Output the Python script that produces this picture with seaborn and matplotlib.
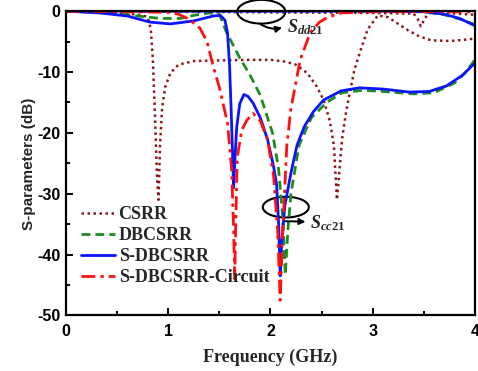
import matplotlib
matplotlib.use("Agg")
import matplotlib.pyplot as plt
import seaborn as sns
from matplotlib.patches import Ellipse

# CSRR, cc21 (deep notches) and dd21 (near 0 dB)
csrr_cc_f = [0, 0.3, 0.6, 0.75, 0.80, 0.83, 0.85, 0.87, 0.89, 0.905, 0.92, 0.94, 0.97,
             1.02, 1.1, 1.25, 1.5, 1.8, 2.0, 2.15, 2.25, 2.36, 2.45, 2.52, 2.58, 2.62,
             2.65, 2.67, 2.7, 2.74, 2.78, 2.82, 2.88, 2.95, 3.05, 3.15, 3.34, 3.45,
             3.57, 3.76, 3.9, 4.0]
csrr_cc_db = [0, -0.1, -0.4, -0.7, -1.0, -3, -8, -17, -27, -31, -22, -16, -12.5,
              -10.2, -8.8, -8.2, -8.1, -8.0, -8.0, -8.3, -8.8, -10.2, -12.3, -14.6, -18, -22,
              -31, -27, -21, -16.5, -13, -9.7, -6.5, -3, -0.7, -1.0, -3.1, -4.1,
              -4.8, -4.9, -4.7, -4.5]
csrr_dd_f = [0, 1.0, 2.0, 3.0, 3.4, 3.44, 3.47, 3.51, 3.55, 3.8, 4.0]
csrr_dd_db = [0, -0.1, -0.2, -0.3, -0.4, -1.3, -2.5, -1.2, -0.3, -0.4, -0.6]

# DBCSRR
dbc_cc_f = [0, 0.3, 0.6, 0.92, 1.12, 1.25, 1.4, 1.5, 1.57, 1.7, 1.8, 1.9, 2.02, 2.08,
            2.12, 2.145, 2.17, 2.2, 2.28, 2.4, 2.55, 2.7, 2.9, 3.1, 3.4, 3.6, 3.8,
            3.9, 4.0]
dbc_cc_db = [0, -0.2, -0.6, -1.2, -1.2, -0.7, -0.3, -0.5, -3.5, -7.7, -10.5, -13.8, -20, -26,
             -34, -43.3, -36, -30, -22, -17.5, -15, -13.4, -13, -13.2, -13.6, -13.4, -11.8,
             -10.2, -8.0]
dbc_dd_f = [0, 1.0, 2.0, 3.0, 3.5, 3.7, 3.85, 4.0]
dbc_dd_db = [0, 0, 0, 0, -0.1, -0.6, -1.3, -2.2]

# S-DBCSRR
sdb_cc_f = [0, 0.33, 0.6, 0.82, 1.02, 1.25, 1.44, 1.51, 1.555, 1.58, 1.60, 1.615, 1.63,
            1.64, 1.65, 1.67, 1.70, 1.74, 1.78, 1.83, 1.9, 1.97, 2.03, 2.06, 2.08, 2.095,
            2.11, 2.14, 2.2, 2.26, 2.33, 2.42, 2.52, 2.69, 2.87, 3.1, 3.36, 3.55, 3.72,
            3.88, 4.0]
sdb_cc_db = [0, -0.3, -0.8, -1.8, -2.1, -1.6, -0.8, -0.7, -1.5, -3.6, -9, -16, -24,
             -29, -25, -19, -15.2, -13.7, -14, -15.1, -17.5, -21, -25.5, -28.5, -35, -43.5,
             -38, -32, -26.6, -22, -19, -16.5, -14.6, -13.1, -12.6, -12.8, -13.3, -13.2, -12.3,
             -10.5, -8.5]
sdb_dd_f = [0, 1.0, 2.0, 3.0, 3.5, 3.7, 3.85, 4.0]
sdb_dd_db = [0, 0, 0, 0, -0.1, -0.5, -1.2, -2.4]

# S-DBCSRR equivalent circuit
cir_f = [0, 0.6, 1.0, 1.1, 1.2, 1.31, 1.38, 1.44, 1.5, 1.58, 1.62, 1.64, 1.65, 1.66,
         1.675, 1.72, 1.77, 1.83, 1.9, 1.97, 2.03, 2.07, 2.095, 2.12, 2.16, 2.2, 2.29,
         2.39, 2.48, 2.56, 2.69, 3.0, 4.0]
cir_db = [0, -0.1, -0.2, -0.5, -1.3, -2.8, -5, -9.1, -12.5, -18.4, -26, -36, -44, -35,
          -24, -19.5, -17.9, -16.8, -18, -21, -27, -36, -47.5, -36, -22, -16, -8,
          -3.5, -1.8, -1.0, -0.3, -0.1, -0.1]

x_ticks = [0, 1, 2, 3, 4]
y_ticks = [0, -10, -20, -30, -40, -50]

sns.set_style("ticks")
plt.rcParams['axes.unicode_minus'] = False
plt.rcParams['mathtext.fontset'] = 'custom'
plt.rcParams['mathtext.it'] = 'Liberation Serif:italic:bold'
plt.rcParams['mathtext.rm'] = 'Liberation Serif:bold'
plt.rcParams['mathtext.bf'] = 'Liberation Serif:bold'

fig = plt.figure(figsize=(4.78, 3.71), dpi=100)
ax = fig.add_subplot(1, 1, 1)
fig.subplots_adjust(left=0.138, right=0.9937, bottom=0.1496, top=0.970)

c_csrr = '#8B1A1A'
c_dbc = '#1E8C1E'
c_sdb = '#0A14FF'
c_cir = '#FF1010'

dot = (0, (1, 1.4))
dash = (0, (3.2, 1.8))
dashdot = (0, (5, 1.8, 1.2, 1.8))

sns.lineplot(x=csrr_cc_f, y=csrr_cc_db, color=c_csrr, linestyle=dot, lw=1.8,
             estimator=None, sort=False, ax=ax, label='CSRR')
sns.lineplot(x=csrr_dd_f, y=csrr_dd_db, color=c_csrr, linestyle=dot, lw=1.8,
             estimator=None, sort=False, ax=ax)
sns.lineplot(x=dbc_cc_f, y=dbc_cc_db, color=c_dbc, linestyle=dash, lw=2.0,
             estimator=None, sort=False, ax=ax, label='DBCSRR')
sns.lineplot(x=dbc_dd_f, y=dbc_dd_db, color=c_dbc, linestyle=dash, lw=2.0,
             estimator=None, sort=False, ax=ax)
sns.lineplot(x=sdb_cc_f, y=sdb_cc_db, color=c_sdb, linestyle='-', lw=2.0,
             estimator=None, sort=False, ax=ax, label='S-DBCSRR')
sns.lineplot(x=sdb_dd_f, y=sdb_dd_db, color=c_sdb, linestyle='-', lw=2.0,
             estimator=None, sort=False, ax=ax)
sns.lineplot(x=cir_f, y=cir_db, color=c_cir, linestyle=dashdot, lw=2.0,
             estimator=None, sort=False, ax=ax, label='S-DBCSRR-Circuit')

ax.set_xlim(0, 4)
ax.set_ylim(-50, 0)
ax.set_xticks(x_ticks)
ax.set_yticks(y_ticks)
ax.set_xticks([0.5, 1.5, 2.5, 3.5], minor=True)
ax.set_yticks([-5, -15, -25, -35, -45], minor=True)
ax.tick_params(which='both', direction='in', width=1.4, colors='black')
ax.tick_params(axis='x', pad=6)
ax.tick_params(axis='y', pad=4)
ax.tick_params(which='major', length=5)
ax.tick_params(which='minor', length=3)
for lab in ax.get_xticklabels() + ax.get_yticklabels():
    lab.set_fontfamily('Liberation Sans')
    lab.set_fontweight('bold')
    lab.set_fontsize(11.5)
for sp in ax.spines.values():
    sp.set_linewidth(1.6)
    sp.set_color('black')
    sp.set_visible(True)

ax.set_xlabel("Frequency (GHz)", family='Liberation Serif', fontweight='bold',
              fontsize=13, labelpad=7)
ax.set_ylabel("S-parameters (dB)", family='Liberation Sans', fontweight='bold',
              fontsize=11, labelpad=1)

leg = ax.legend(loc='upper left', bbox_to_anchor=(0.036, 0.36), frameon=False,
                borderaxespad=0, borderpad=0, handlelength=1.9, handletextpad=0.2,
                labelspacing=0.22, prop={'family': 'Liberation Serif', 'weight': 'bold', 'size': 13})

# annotations: ellipses + arrows
ax.add_patch(Ellipse((1.91, -0.1), 0.47, 3.9, fill=False, lw=1.5, ec='black', clip_on=False))
ax.annotate('', xy=(2.14, -2.6), xytext=(1.88, -1.9),
            arrowprops=dict(arrowstyle='-|>', color='black', lw=1.4,
                            connectionstyle='arc3,rad=0.25', mutation_scale=9))
ax.text(2.16, -2.7, r'$S_{dd21}$', fontsize=13, va='center', ha='left')

ax.add_patch(Ellipse((2.15, -32.2), 0.45, 3.4, fill=False, lw=1.5, ec='black'))
ax.annotate('', xy=(2.37, -34.6), xytext=(2.12, -34.5),
            arrowprops=dict(arrowstyle='-|>', color='black', lw=1.4, mutation_scale=9))
ax.text(2.385, -34.9, r'$S_{cc21}$', fontsize=13, va='center', ha='left')

fig.savefig("out.png", dpi=100)
plt.close(fig)
